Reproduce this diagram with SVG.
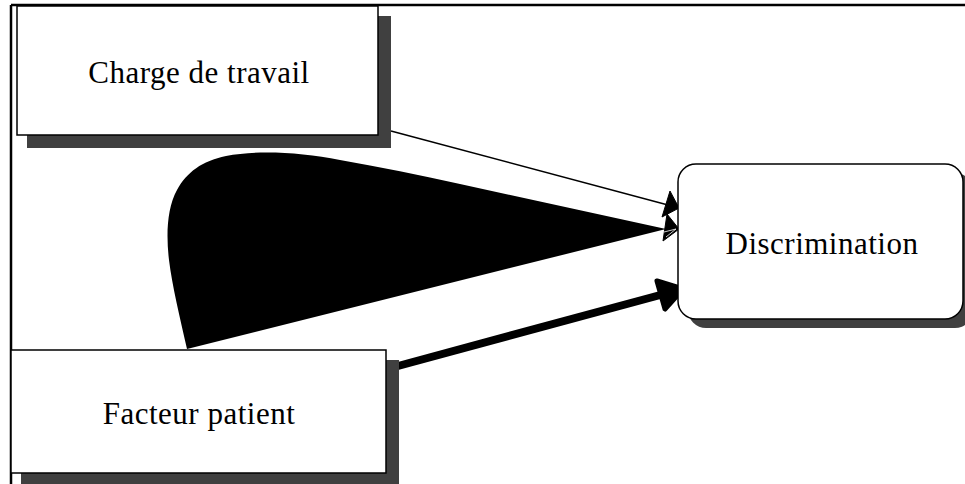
<svg xmlns="http://www.w3.org/2000/svg" width="965" height="484" viewBox="0 0 965 484">
  <style>
    .shadow { fill: #404040; stroke: none; }
    .box { fill: #ffffff; stroke: #000000; stroke-width: 1.5; }
    .label { font-family: "Liberation Serif", "Times New Roman", serif; font-size: 31px; letter-spacing: 0.5px; fill: #000000; text-anchor: middle; }
    .frame { stroke: #000000; stroke-width: 2.5; fill: none; }
  </style>
  <rect width="965" height="484" fill="#ffffff"/>

  <!-- page frame: top and left rules -->
  <path class="frame" d="M11,5 H965 M11,5 V484"/>

  <!-- connectors -->
  <g id="connectors">
    <!-- thin arrow from the workload box -->
    <line x1="391" y1="131" x2="668" y2="205" stroke="#000" stroke-width="1.5"/>
    <polygon points="670,191 679,208 662,217" fill="#000" stroke="#000" stroke-width="1" stroke-linejoin="round"/>

    <!-- wide curved wedge -->
    <path d="M187,349 C180,318 172,285 169,260 C166,235 167,208 177,190 C187,172 202,161 226,156 C256,150 300,152 340,160 C380,167 420,175 460,184 L666,229 L187,349 Z" fill="#000"/>
    <polygon points="667,214 679,229 663,241" fill="#000" stroke="#000" stroke-width="1" stroke-linejoin="round"/>
    <polyline points="664,232 676,229 666,237" fill="none" stroke="#fff" stroke-width="0.8"/>

    <!-- thick arrow from the patient box -->
    <line x1="398" y1="366" x2="664" y2="294" stroke="#000" stroke-width="8"/>
    <polygon points="657,281 683,289 665,309" fill="#000" stroke="#000" stroke-width="5" stroke-linejoin="round"/>
  </g>

  <g id="node-charge">
    <rect class="shadow" x="27" y="16" width="364" height="132"/>
    <rect class="box" x="17" y="6" width="361" height="129"/>
    <text class="label" x="199" y="83">Charge de travail</text>
  </g>

  <g id="node-facteur">
    <rect class="shadow" x="21" y="360" width="378" height="126"/>
    <rect class="box" x="11" y="350" width="375" height="123"/>
    <text class="label" x="199" y="424">Facteur patient</text>
  </g>

  <g id="node-discrimination">
    <rect class="shadow" x="688" y="173" width="285" height="155" rx="18" ry="18"/>
    <rect class="box" x="678" y="164" width="285" height="155" rx="18" ry="18"/>
    <text class="label" x="822" y="254">Discrimination</text>
  </g>
</svg>
